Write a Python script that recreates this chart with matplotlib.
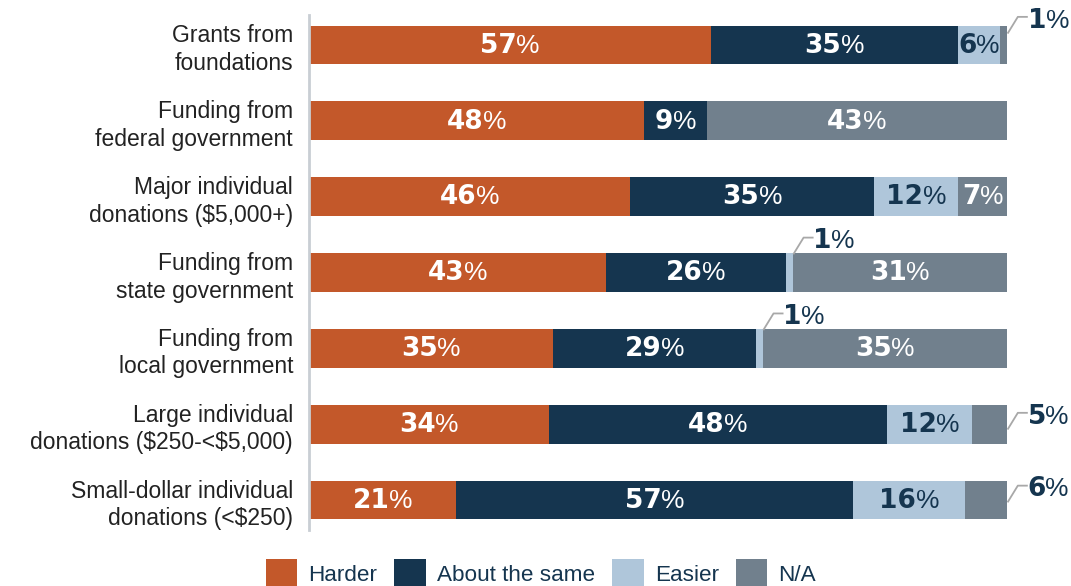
import matplotlib
matplotlib.use("Agg")
import matplotlib.pyplot as plt
from matplotlib.patches import Patch
from matplotlib.transforms import ScaledTranslation
import numpy as np

plt.rcParams["font.family"] = ["Liberation Sans", "DejaVu Sans"]

CATEGORIES = [
    "Grants from\nfoundations",
    "Funding from\nfederal government",
    "Major individual\ndonations (\\$5,000+)",
    "Funding from\nstate government",
    "Funding from\nlocal government",
    "Large individual\ndonations (\\$250-<\\$5,000)",
    "Small-dollar individual\ndonations (<\\$250)",
]
SERIES = ["Harder", "About the same", "Easier", "N/A"]
HARDER = [57, 48, 46, 43, 35, 34, 21]
SAME = [35, 9, 35, 26, 29, 48, 57]
EASIER = [6, 0, 12, 1, 1, 12, 16]
NA = [1, 43, 7, 31, 35, 5, 6]

COLORS = ["#C3582A", "#15354F", "#AFC6DA", "#71808D"]
LABEL_COLORS = ["white", "white", "#15354F", "white"]
NAVY = "#15354F"
# (row, series) -> vertical start offset of the leader line
CALLOUTS = {(0, 3): -0.16, (3, 2): -0.25, (4, 2): -0.25, (5, 3): 0.06, (6, 3): 0.02}

values = np.array([HARDER, SAME, EASIER, NA], dtype=float)
shares = values / values.sum(axis=0) * 100

fig = plt.figure(figsize=(10.71, 5.86), dpi=100)
ax = fig.add_axes([309 / 1071, 1 - 530.4 / 586, 698 / 1071, 515.8 / 586])
renderer = fig.canvas.get_renderer()


def pct_label(x, y, v, color, centered):
    # bold number followed by a regular-weight percent sign, sharing a baseline
    num = ax.text(x, y, f"{int(v)}", fontsize=19, fontweight="bold",
                  family="DejaVu Sans", color=color, ha="left", va="baseline",
                  clip_on=False)
    pct = ax.text(x, y, "%", fontsize=19, family="Liberation Sans",
                  color=color, ha="left", va="baseline", clip_on=False)
    wn = num.get_window_extent(renderer).width * 72 / fig.dpi - 0.4
    wp = pct.get_window_extent(renderer).width * 72 / fig.dpi
    shift = -(wn + wp) / 2 if centered else 0
    dy = -5.6
    num.set_transform(ax.transData + ScaledTranslation(
        shift / 72, dy / 72, fig.dpi_scale_trans))
    pct.set_transform(ax.transData + ScaledTranslation(
        (shift + wn) / 72, dy / 72, fig.dpi_scale_trans))


y = np.arange(len(CATEGORIES))
left = np.zeros(len(CATEGORIES))
for s, name in enumerate(SERIES):
    ax.barh(y, shares[s], left=left, height=0.51, color=COLORS[s], label=name)
    left += shares[s]

ax.set_xlim(0, 100)
ax.set_ylim(6.4, -0.4)

left = np.zeros(len(CATEGORIES))
for s in range(len(SERIES)):
    for i in range(len(CATEGORIES)):
        v = values[s, i]
        if v == 0:
            continue
        if (i, s) in CALLOUTS:
            x0 = left[i] + shares[s, i]
            y0 = i + CALLOUTS[(i, s)]
            xs = [x0 + 0.15, x0 + 1.55, x0 + 2.85]
            ys = [y0, y0 - 0.21, y0 - 0.21]
            ax.plot(xs, ys, color="#A8A8A8", lw=1.3, clip_on=False)
            pct_label(xs[-1] + 0.1, ys[-1] + 0.04, v, NAVY, False)
        else:
            pct_label(left[i] + shares[s, i] / 2, i, v, LABEL_COLORS[s], True)
    left += shares[s]

ax.set_yticks(y)
ax.set_yticklabels(CATEGORIES, fontsize=16.5, color="#222222", linespacing=1.25)
ax.tick_params(axis="y", length=0, pad=11.5)
ax.set_xticks([])
for side in ["top", "right", "bottom"]:
    ax.spines[side].set_visible(False)
ax.spines["left"].set_color("#C9CED4")
ax.spines["left"].set_linewidth(2)

handles = [Patch(facecolor=c, edgecolor="none") for c in COLORS]
fig.legend(handles, SERIES, loc="center", bbox_to_anchor=(541 / 1071, 0.022),
           ncol=4, frameon=False, fontsize=16.2, labelcolor=NAVY,
           handlelength=1.4, handleheight=1.5, handletextpad=0.5,
           columnspacing=0.75, borderaxespad=0)

fig.savefig("out.png", dpi=100)
